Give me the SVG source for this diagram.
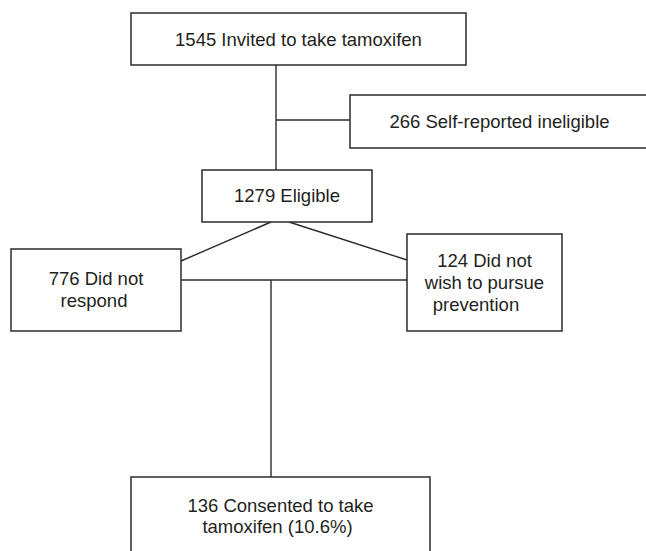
<svg xmlns="http://www.w3.org/2000/svg" width="646" height="551" viewBox="0 0 646 551">
<style>
.box{fill:#fff;stroke:#2b2b2b;stroke-width:1.5}
.ln{stroke:#2b2b2b;stroke-width:1.4;fill:none}
text{font-family:"Liberation Sans",Arial,sans-serif;font-size:18.5px;fill:#231f20;text-anchor:middle}
</style>
<rect width="646" height="551" fill="#fff"/>
<g id="connectors">
<line class="ln" x1="276" y1="65" x2="276" y2="170"/>
<line class="ln" x1="276" y1="120" x2="350" y2="120"/>
<line class="ln" x1="271" y1="222" x2="181" y2="261"/>
<line class="ln" x1="289" y1="222" x2="407" y2="260"/>
<line class="ln" x1="181" y1="280" x2="407" y2="280"/>
<line class="ln" x1="271" y1="280" x2="271" y2="477"/>
</g>
<g id="n1545">
<rect class="box" x="131" y="13" width="335" height="52"/>
<text x="298.5" y="45.5">1545 Invited to take tamoxifen</text>
</g>
<g id="n266">
<rect class="box" x="350" y="95" width="300" height="53"/>
<text x="499.5" y="128">266 Self-reported ineligible</text>
</g>
<g id="n1279">
<rect class="box" x="202" y="170" width="170" height="52"/>
<text x="287" y="202">1279 Eligible</text>
</g>
<g id="n776">
<rect class="box" x="11" y="249" width="170" height="82"/>
<text x="96" y="285">776 Did not</text>
<text x="94" y="307">respond</text>
</g>
<g id="n124">
<rect class="box" x="407" y="234" width="155" height="97"/>
<text x="484.5" y="267">124 Did not</text>
<text x="484.5" y="289">wish to pursue</text>
<text x="476" y="311">prevention</text>
</g>
<g id="n136">
<rect class="box" x="131" y="477" width="299" height="90"/>
<text x="280.5" y="512">136 Consented to take</text>
<text x="277.5" y="533">tamoxifen (10.6%)</text>
</g>
</svg>
